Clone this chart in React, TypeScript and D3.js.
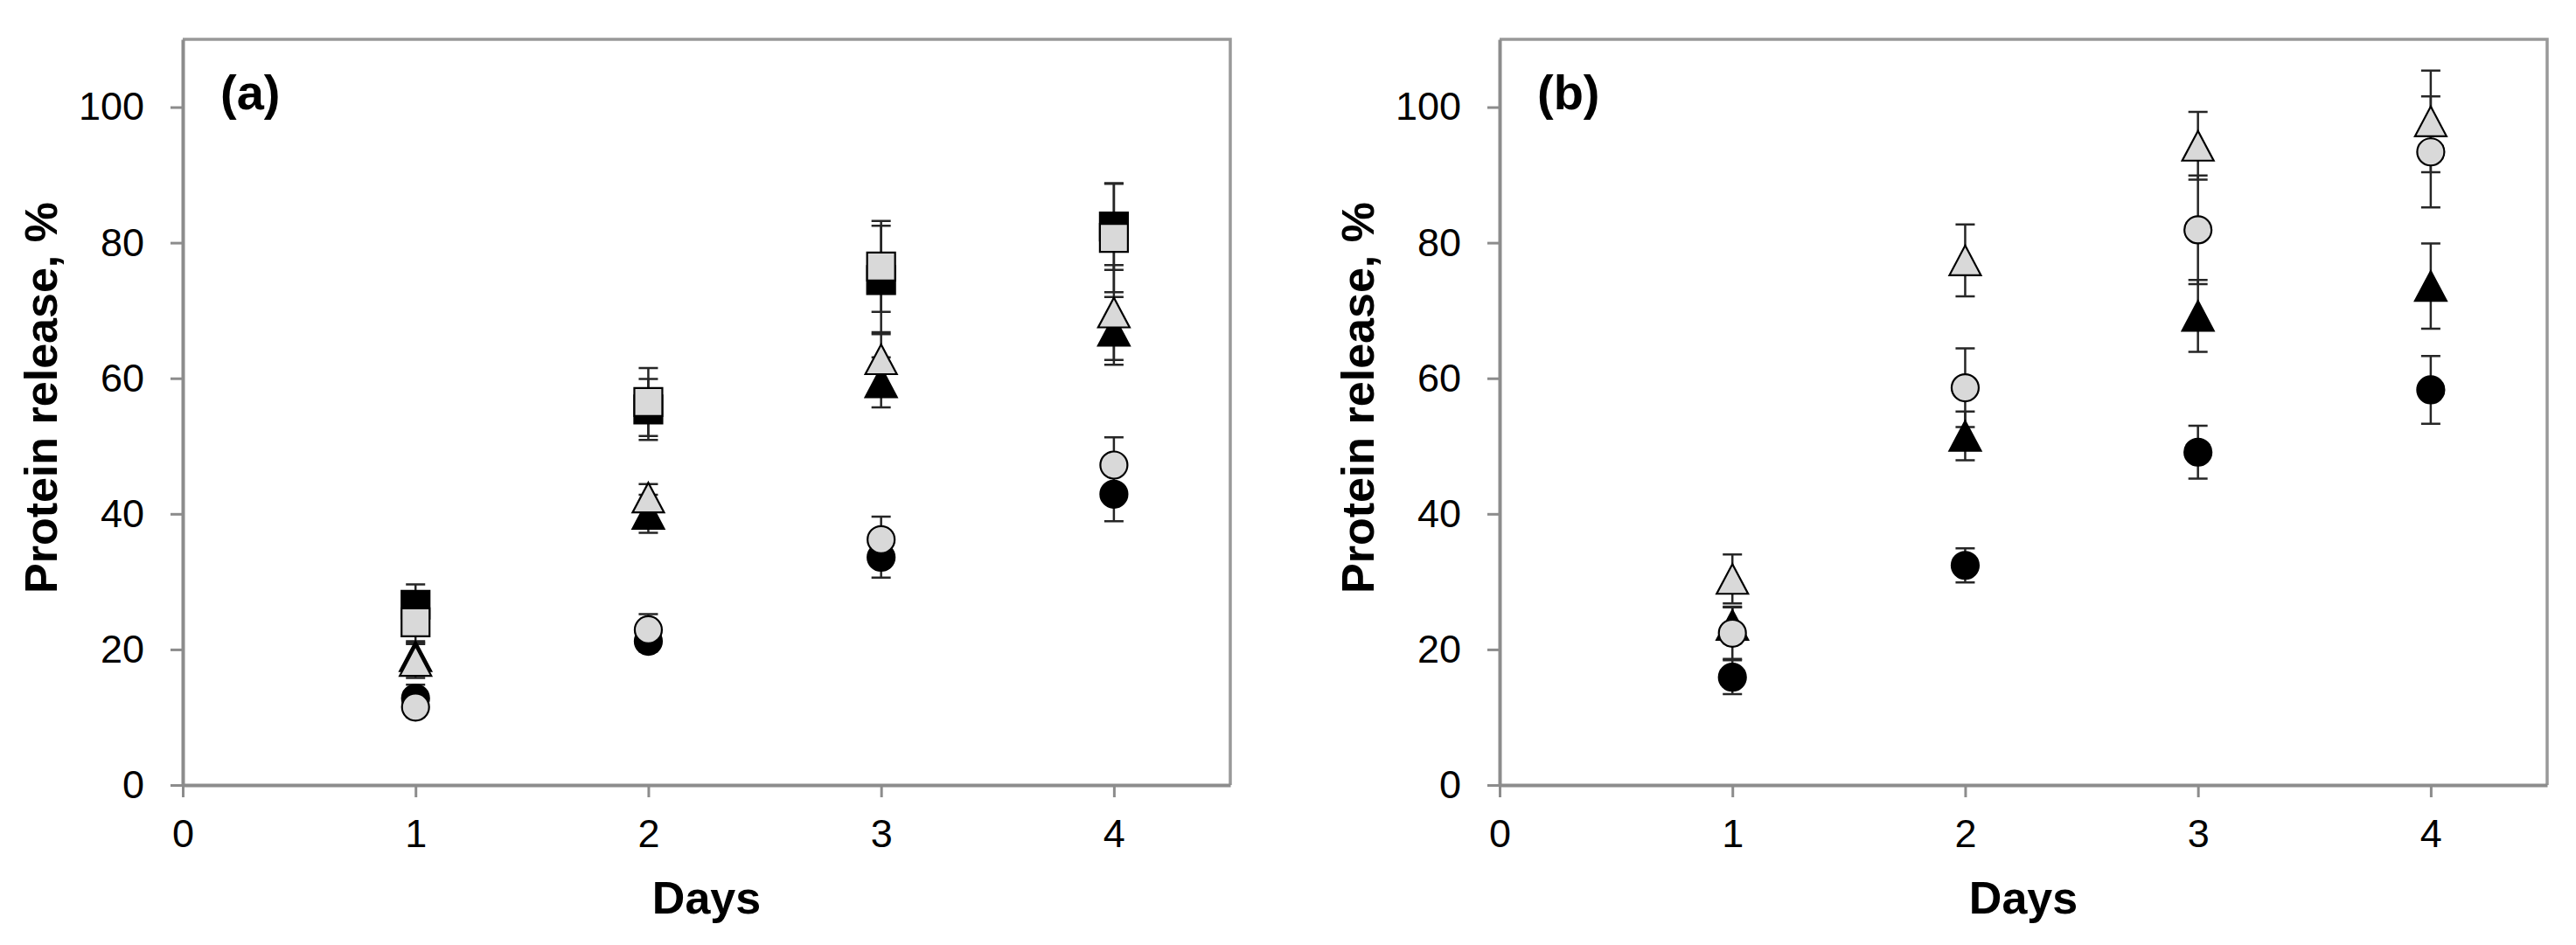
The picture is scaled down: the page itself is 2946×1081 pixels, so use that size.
import * as d3 from 'd3';
import { useEffect, useRef } from 'react';

const days = [1, 2, 3, 4];
const xTicks = [0, 1, 2, 3, 4];
const yTicks = [0, 20, 40, 60, 80, 100];

// panel (a)
const aBlackSquare = [26.6, 55.4, 74.5, 82.4];
const aBlackSquareErr = [3.0, 4.5, 8.0, 6.4];
const aGreySquare = [24.0, 56.5, 76.5, 80.7];
const aGreySquareErr = [2.8, 5.0, 6.7, 8.0];
const aBlackTriangle = [19.0, 40.0, 59.4, 67.0];
const aBlackTriangleErr = [2.0, 2.8, 3.7, 5.0];
const aGreyTriangle = [18.3, 42.4, 62.8, 69.7];
const aGreyTriangleErr = [2.5, 2.0, 4.0, 7.0];
const aBlackCircle = [12.8, 21.2, 33.6, 42.9];
const aBlackCircleErr = [2.0, 1.5, 3.0, 4.0];
const aGreyCircle = [11.5, 22.9, 36.2, 47.2];
const aGreyCircleErr = [1.5, 2.3, 3.4, 4.1];

// panel (b)
const bBlackCircle = [15.9, 32.4, 49.1, 58.3];
const bBlackCircleErr = [2.5, 2.5, 3.9, 5.0];
const bGreyCircle = [22.4, 58.6, 81.9, 93.4];
const bGreyCircleErr = [3.8, 5.8, 8.0, 8.2];
const bBlackTriangle = [23.6, 51.5, 69.2, 73.6];
const bBlackTriangleErr = [2.7, 3.6, 5.3, 6.3];
const bGreyTriangle = [30.4, 77.4, 94.3, 97.9];
const bGreyTriangleErr = [3.6, 5.3, 5.0, 7.5];

const BLACK = '#000000';
const GREY = '#d9d9d9';

const panels = [
  {
    label: '(a)',
    left: 209,
    series: [
      { values: aBlackSquare, errors: aBlackSquareErr, shape: 'square', fill: BLACK },
      { values: aGreySquare, errors: aGreySquareErr, shape: 'square', fill: GREY },
      { values: aBlackTriangle, errors: aBlackTriangleErr, shape: 'triangle', fill: BLACK },
      { values: aGreyTriangle, errors: aGreyTriangleErr, shape: 'triangle', fill: GREY },
      { values: aBlackCircle, errors: aBlackCircleErr, shape: 'circle', fill: BLACK },
      { values: aGreyCircle, errors: aGreyCircleErr, shape: 'circle', fill: GREY },
    ],
  },
  {
    label: '(b)',
    left: 1715,
    series: [
      { values: bBlackCircle, errors: bBlackCircleErr, shape: 'circle', fill: BLACK },
      { values: bBlackTriangle, errors: bBlackTriangleErr, shape: 'triangle', fill: BLACK },
      { values: bGreyCircle, errors: bGreyCircleErr, shape: 'circle', fill: GREY },
      { values: bGreyTriangle, errors: bGreyTriangleErr, shape: 'triangle', fill: GREY },
    ],
  },
];

const markerPath = (shape, cx, cy) => {
  const p = d3.path();
  if (shape === 'square') {
    p.rect(cx - 16, cy - 16, 32, 32);
  } else if (shape === 'triangle') {
    p.moveTo(cx, cy - 17);
    p.lineTo(cx + 18, cy + 17);
    p.lineTo(cx - 18, cy + 17);
    p.closePath();
  } else {
    p.arc(cx, cy, 15.5, 0, 2 * Math.PI);
  }
  return p.toString();
};

const App = () => {
  const svgRef = useRef(null);

  useEffect(() => {
    const width = 2946;
    const height = 1081;
    const plotWidth = 1198;
    const top = 45;
    const bottom = 898;
    const axisColor = '#8c8c8c';
    const fontFamily = '"Liberation Sans", Arial, sans-serif';

    const svg = d3.select(svgRef.current);
    svg.selectAll('*').remove();
    svg.attr('width', width).attr('height', height).attr('viewBox', [0, 0, width, height]);

    svg.append('rect').attr('width', width).attr('height', height).attr('fill', '#fff');

    panels.forEach((panel) => {
      const x = d3.scaleLinear([0, 4.5], [panel.left, panel.left + plotWidth]);
      const y = d3.scaleLinear([0, 110], [bottom, top]);
      const g = svg.append('g');

      // top + right frame
      g.append('path')
        .attr('fill', 'none')
        .attr('stroke', '#999')
        .attr('stroke-width', 3.5)
        .attr('d', `M${x(0)},${y(110)}H${x(4.5)}V${y(0)}`);

      g.append('g')
        .attr('transform', `translate(${x(0)},0)`)
        .call(d3.axisLeft(y).tickValues(yTicks).tickFormat(d3.format('d')).tickSize(14).tickSizeOuter(0).tickPadding(30))
        .call((ax) => {
          ax.attr('font-size', 45).attr('font-family', fontFamily);
          ax.select('.domain').attr('stroke', axisColor).attr('stroke-width', 4);
          ax.selectAll('.tick line').attr('stroke', axisColor).attr('stroke-width', 3);
          ax.selectAll('.tick text').attr('fill', '#000');
        });

      g.append('g')
        .attr('transform', `translate(0,${y(0)})`)
        .call(d3.axisBottom(x).tickValues(xTicks).tickFormat(d3.format('d')).tickSize(14).tickSizeOuter(0).tickPadding(25))
        .call((ax) => {
          ax.attr('font-size', 45).attr('font-family', fontFamily);
          ax.select('.domain').attr('stroke', axisColor).attr('stroke-width', 4);
          ax.selectAll('.tick line').attr('stroke', axisColor).attr('stroke-width', 3);
          ax.selectAll('.tick text').attr('fill', '#000');
        });

      // error bars first, markers on top
      panel.series.forEach((s) => {
        days.forEach((d, i) => {
          const cx = x(d);
          const y0 = y(s.values[i] - s.errors[i]);
          const y1 = y(s.values[i] + s.errors[i]);
          g.append('path')
            .attr('fill', 'none')
            .attr('stroke', '#262626')
            .attr('stroke-width', 2.5)
            .attr('d', `M${cx},${y0}V${y1}M${cx - 11},${y0}H${cx + 11}M${cx - 11},${y1}H${cx + 11}`);
        });
      });

      panel.series.forEach((s) => {
        days.forEach((d, i) => {
          g.append('path')
            .attr('d', markerPath(s.shape, x(d), y(s.values[i])))
            .attr('fill', s.fill)
            .attr('stroke', '#000')
            .attr('stroke-width', 2.2);
        });
      });

      g.append('text')
        .attr('x', x(0) + 43)
        .attr('y', 125)
        .attr('font-family', fontFamily)
        .attr('font-weight', 'bold')
        .attr('font-size', 56)
        .text(panel.label);

      g.append('text')
        .attr('transform', `translate(${x(0) - 144},455) rotate(-90)`)
        .attr('text-anchor', 'middle')
        .attr('font-family', fontFamily)
        .attr('font-weight', 'bold')
        .attr('font-size', 52)
        .text('Protein release, %');

      g.append('text')
        .attr('x', (x(0) + x(4.5)) / 2)
        .attr('y', 1045)
        .attr('text-anchor', 'middle')
        .attr('font-family', fontFamily)
        .attr('font-weight', 'bold')
        .attr('font-size', 52)
        .text('Days');
    });
  }, []);

  return <svg ref={svgRef} style={{ position: 'absolute', left: 0, top: 0, display: 'block' }} />;
};

export default App;
